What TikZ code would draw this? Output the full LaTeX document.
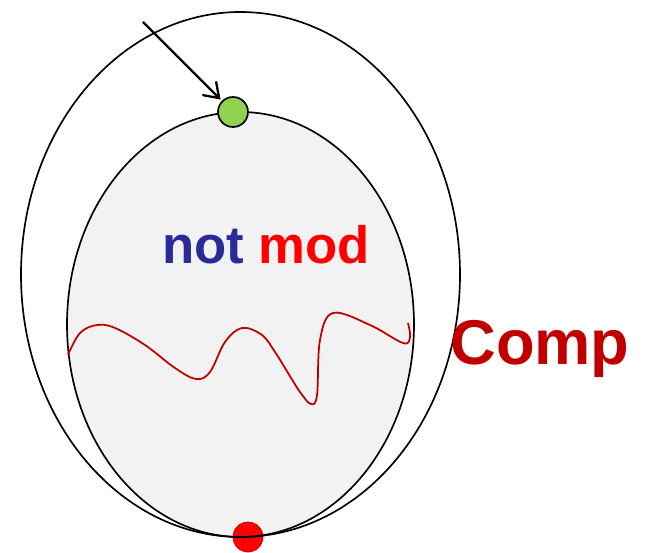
\documentclass[tikz,border=0pt]{standalone}
\usepackage{fontspec}
\setmainfont{Liberation Sans}
\usetikzlibrary{arrows.meta}

\definecolor{notblue}{RGB}{42,42,154}
\definecolor{compred}{RGB}{192,0,0}
\definecolor{dotgreen}{RGB}{146,208,80}
\definecolor{innergray}{RGB}{242,242,242}

\begin{document}
\begin{tikzpicture}[
    x=0.02cm, y=-0.02cm,
    rim/.style   = {draw, line width=0.95pt},
    dot/.style   = {circle, minimum size=30*0.02cm, inner sep=0pt},
    label/.style = {font=\bfseries\fontsize{30}{35}\selectfont, anchor=base},
    arrow/.style = {-{Straight Barb[length=8pt, width=11pt]}, line width=1.3pt}
  ]
  \useasboundingbox (0,0) rectangle (646,553);

  % Inner region (fill only)
  \fill[innergray] (240.5,324.5) ellipse [x radius=173.5, y radius=212.5];

  % Bottom point
  \node[dot, fill=red, draw=red!80!black, line width=0.4pt] (goal) at (248,537) {};

  % Outlines
  \draw[rim] (240.5,274.5) ellipse [x radius=219.5, y radius=262.5];
  \draw[rim] (240.5,324.5) ellipse [x radius=173.5, y radius=212.5];

  % Top point
  \node[dot, fill=dotgreen, draw, line width=0.95pt] (start) at (233,112) {};

  % Arrow into the top point
  \coordinate (tail) at (143,22);
  \draw[arrow, shorten >=1pt] (tail) -- (start);

  % Wavy path
  \draw[compred, line width=1pt] plot[smooth, tension=0.6] coordinates {
    (68,355) (80,333) (97,325) (115,328) (145,345) (175,368) (196,379)
    (210,372) (225,342) (242,328) (262,335) (275,352)
    (285,368) (300,392) (311,404) (317,395) (320,340) (333,313)
    (370,325) (403,343) (410,337) (408,323)};

  % Texts
  \node[label] (lbl) at (266,264)
    {\textcolor{notblue}{not} \textcolor{red}{mod}};
  \node[label, font=\bfseries\fontsize{36}{42}\selectfont, text=compred]
    (comp) at (540,365) {Comp};
\end{tikzpicture}
\end{document}
